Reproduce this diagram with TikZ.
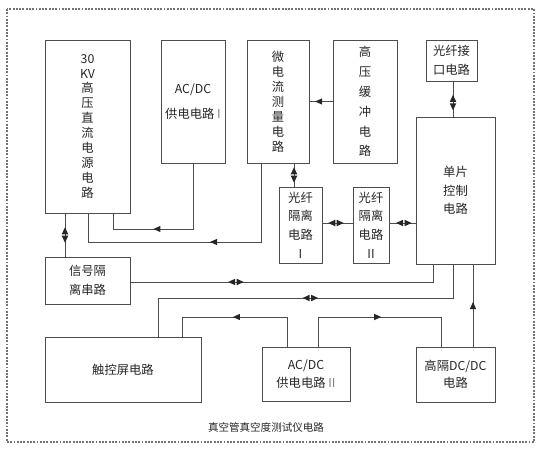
\documentclass[tikz,border=0pt]{standalone}
\usepackage{fontspec}
\setmainfont{Noto Sans CJK SC}
\usepackage{tikz}
\usetikzlibrary{decorations.markings}

\begin{document}
\begin{tikzpicture}[x=0.03cm,y=-0.03cm,
  font=\fontsize{10.5}{16}\selectfont,
  box/.style={draw=black!70,line width=0.7pt,inner sep=0pt,outer sep=0pt,align=center,text=black!85},
  wire/.style={draw=black!70,line width=0.7pt},
  sarrow/.style={postaction={decorate,decoration={markings,
    mark=at position #1 with {\fill[black!85] (3pt,0) -- (-3pt,2.7pt) -- (-3pt,-2.7pt) -- cycle;}}}},
  darrow/.style={postaction={decorate,decoration={markings,
    mark=at position #1 with {\fill[black!85] (6.6pt,0) -- (0.6pt,2.8pt) -- (0.6pt,-2.8pt) -- cycle;
      \fill[black!85] (-6.6pt,0) -- (-0.6pt,2.8pt) -- (-0.6pt,-2.8pt) -- cycle;}}}}]
  \useasboundingbox (0,0) rectangle (542,450);
  \draw[black!55,line width=1pt,dash pattern=on 1.6pt off 1.2pt] (7,9) rectangle (534,442);

  % top row
  \node[box,minimum width=2.55cm,minimum height=5.19cm,font=\fontsize{10.5}{12.8}\selectfont] (hv) at (87.5,126.5)
    {30\\KV\\高\\压\\直\\流\\电\\源\\电\\路};
  \node[box,minimum width=1.92cm,minimum height=3.69cm,font=\fontsize{10.5}{22}\selectfont] (acdc1) at (193,101.5)
    {AC/DC\\供电电路 {\color{black!50}I}};
  \node[box,minimum width=1.86cm,minimum height=3.69cm,font=\fontsize{10.5}{12.8}\selectfont] (micro) at (278,101.5)
    {微\\电\\流\\测\\量\\电\\路};
  \node[box,minimum width=1.92cm,minimum height=3.69cm,font=\fontsize{10.5}{17}\selectfont] (buf) at (365,101.5)
    {高\\压\\缓\\冲\\电\\路};
  \node[box,minimum width=1.53cm,minimum height=1.23cm] (fiberif) at (451.5,60.5) {光纤接\\口电路};
  \node[box,minimum width=2.37cm,minimum height=4.41cm] (mcu) at (455.5,190.5) {单片\\控制\\电路};

  % middle
  \node[box,minimum width=1.29cm,minimum height=2.28cm] (iso1) at (300.5,225) {光纤\\隔离\\电路\\I};
  \node[box,minimum width=1.08cm,minimum height=2.28cm] (iso2) at (371,225) {光纤\\隔离\\电路\\II};
  \node[box,minimum width=2.55cm,minimum height=1.41cm] (sig) at (87.5,280.5) {信号隔\\离串路};

  % bottom row
  \node[box,minimum width=4.68cm,minimum height=1.95cm] (touch) at (123,369.5) {触控屏电路};
  \node[box,minimum width=2.64cm,minimum height=1.62cm] (acdc2) at (306,374)
    {AC/DC\\供电电路 {\color{black!50}II}};
  \node[box,minimum width=2.37cm,minimum height=1.65cm,font=\fontsize{10.5}{15}\selectfont] (dcdc) at (455.5,374.5)
    {高隔DC/DC\\电路};
  \node[font=\fontsize{9}{11}\selectfont,text=black!85] (title) at (266,427) {真空管真空度测试仪电路};

  % connections
  \draw[wire,darrow=0.5] (hv.south -| 65,0) -- (sig.north -| 65,0);
  \draw[wire,sarrow=0.63] (acdc1.south) -- (acdc1.south |- 0,229) -| (hv.south -| 113,0);
  \draw[wire,sarrow=0.45] (micro.south -| 261,0) -- (261,242) -| (hv.south -| 88,0);
  \draw[wire,sarrow=0.6] (buf.west) -- (micro.east |- buf.west);
  \draw[wire,darrow=0.5] (micro.south -| 294,0) -- (iso1.north -| 294,0);
  \draw[wire,darrow=0.45] (iso1.east |- 0,223) -- (iso2.west |- 0,223);
  \draw[wire,darrow=0.55] (iso2.east |- 0,223) -- (mcu.west |- 0,223);
  \draw[wire,darrow=0.6] (fiberif.south -| 453,0) -- (mcu.north -| 453,0);
  \draw[wire,darrow=0.33] (sig.east |- 0,282) -| (mcu.south -| 433,0);
  \draw[wire,darrow=0.48] (mcu.south -| 453,0) -- (453,298) -| (touch.north -| 158,0);
  \draw[wire,sarrow=0.52] (acdc2.north -| 287,0) -- (287,317) -| (touch.north -| 182,0);
  \draw[wire,sarrow=0.49] (acdc2.north -| 318,0) -- (318,317) -| (dcdc.north -| 441,0);
  \draw[wire,sarrow=0.5] (dcdc.north -| 473,0) -- (mcu.south -| 473,0);
\end{tikzpicture}
\end{document}
